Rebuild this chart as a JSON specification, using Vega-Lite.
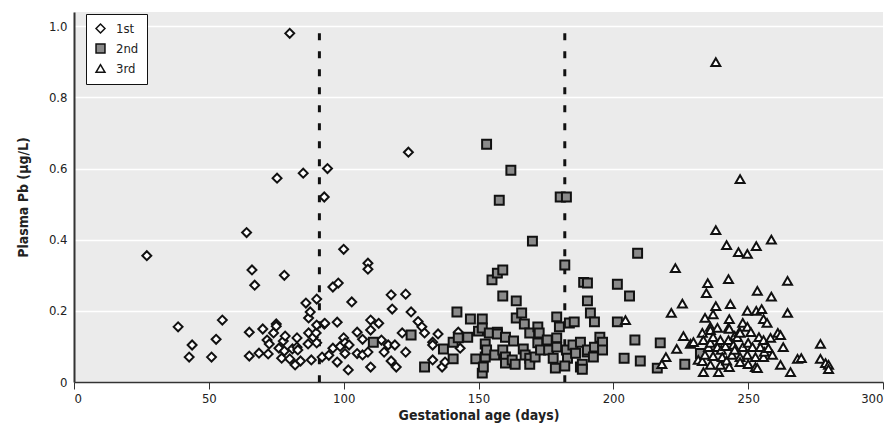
{
  "$schema": "https://vega.github.io/schema/vega-lite/v6.json",
  "width": 809,
  "height": 370,
  "autosize": {"type": "none"},
  "padding": {"left": 74, "top": 12, "right": 12, "bottom": 57},
  "background": "white",
  "config": {
    "view": {"fill": "#ebebeb", "stroke": null},
    "font": "DejaVu Sans Condensed, sans-serif",
    "axis": {"labelFont": "DejaVu Sans Condensed, sans-serif", "titleFont": "DejaVu Sans Condensed, sans-serif", "labelColor": "#222", "titleColor": "#222"},
    "legend": {"labelFont": "DejaVu Sans Condensed, sans-serif", "labelColor": "#222"}
  },
  "datasets": {
    "pts": [
      {"t":"1st","x":27,"y":0.355},{"t":"1st","x":38.6,"y":0.155},{"t":"1st","x":43.8,"y":0.104},{"t":"1st","x":42.7,"y":0.07},{"t":"1st","x":52.7,"y":0.12},{"t":"1st","x":51,"y":0.07},{"t":"1st","x":55,"y":0.174},{"t":"1st","x":64,"y":0.42},{"t":"1st","x":65,"y":0.14},{"t":"1st","x":65,"y":0.073},{"t":"1st","x":66,"y":0.315},{"t":"1st","x":67,"y":0.272},{"t":"1st","x":68.6,"y":0.081},{"t":"1st","x":70,"y":0.149},{"t":"1st","x":71.6,"y":0.118},{"t":"1st","x":72,"y":0.079},{"t":"1st","x":72.4,"y":0.107},{"t":"1st","x":74,"y":0.138},{"t":"1st","x":75,"y":0.163},{"t":"1st","x":75,"y":0.157},{"t":"1st","x":75.3,"y":0.573},{"t":"1st","x":76,"y":0.095},{"t":"1st","x":77,"y":0.067},{"t":"1st","x":77.6,"y":0.115},{"t":"1st","x":78,"y":0.3},{"t":"1st","x":78,"y":0.087},{"t":"1st","x":78.3,"y":0.129},{"t":"1st","x":80,"y":0.98},{"t":"1st","x":80,"y":0.065},{"t":"1st","x":81,"y":0.093},{"t":"1st","x":82,"y":0.048},{"t":"1st","x":82.7,"y":0.124},{"t":"1st","x":82.7,"y":0.098},{"t":"1st","x":83,"y":0.09},{"t":"1st","x":84,"y":0.059},{"t":"1st","x":85,"y":0.587},{"t":"1st","x":86,"y":0.222},{"t":"1st","x":86.8,"y":0.107},{"t":"1st","x":87,"y":0.18},{"t":"1st","x":87,"y":0.138},{"t":"1st","x":87.6,"y":0.197},{"t":"1st","x":88,"y":0.062},{"t":"1st","x":88.7,"y":0.126},{"t":"1st","x":89.8,"y":0.138},{"t":"1st","x":90,"y":0.233},{"t":"1st","x":90,"y":0.16},{"t":"1st","x":90,"y":0.11},{"t":"1st","x":92,"y":0.07},{"t":"1st","x":92.8,"y":0.163},{"t":"1st","x":92.8,"y":0.52},{"t":"1st","x":94,"y":0.6},{"t":"1st","x":93,"y":0.165},{"t":"1st","x":94.5,"y":0.075},{"t":"1st","x":96,"y":0.267},{"t":"1st","x":96,"y":0.095},{"t":"1st","x":97.6,"y":0.168},{"t":"1st","x":97.6,"y":0.056},{"t":"1st","x":98,"y":0.278},{"t":"1st","x":98.7,"y":0.1},{"t":"1st","x":100,"y":0.373},{"t":"1st","x":100,"y":0.124},{"t":"1st","x":100.5,"y":0.11},{"t":"1st","x":100.5,"y":0.08},{"t":"1st","x":101.7,"y":0.034},{"t":"1st","x":102,"y":0.104},{"t":"1st","x":103,"y":0.225},{"t":"1st","x":105,"y":0.14},{"t":"1st","x":105,"y":0.08},{"t":"1st","x":107,"y":0.12},{"t":"1st","x":107,"y":0.076},{"t":"1st","x":109,"y":0.334},{"t":"1st","x":109,"y":0.317},{"t":"1st","x":109,"y":0.084},{"t":"1st","x":110,"y":0.174},{"t":"1st","x":110,"y":0.146},{"t":"1st","x":110,"y":0.042},{"t":"1st","x":113,"y":0.165},{"t":"1st","x":114,"y":0.118},{"t":"1st","x":115,"y":0.084},{"t":"1st","x":116.5,"y":0.104},{"t":"1st","x":117.6,"y":0.245},{"t":"1st","x":117.6,"y":0.059},{"t":"1st","x":118,"y":0.205},{"t":"1st","x":119,"y":0.104},{"t":"1st","x":119.5,"y":0.042},{"t":"1st","x":121.7,"y":0.138},{"t":"1st","x":123,"y":0.247},{"t":"1st","x":123,"y":0.084},{"t":"1st","x":124,"y":0.646},{"t":"1st","x":125,"y":0.197},{"t":"1st","x":127.6,"y":0.17},{"t":"1st","x":129,"y":0.155},{"t":"1st","x":130,"y":0.138},{"t":"1st","x":133,"y":0.112},{"t":"1st","x":133,"y":0.104},{"t":"1st","x":133,"y":0.062},{"t":"1st","x":135,"y":0.135},{"t":"1st","x":136.5,"y":0.042},{"t":"1st","x":137.6,"y":0.056},{"t":"1st","x":142.5,"y":0.14},{"t":"1st","x":143.2,"y":0.095},
      {"t":"2nd","x":111,"y":0.112},{"t":"2nd","x":125,"y":0.132},{"t":"2nd","x":130,"y":0.042},{"t":"2nd","x":137,"y":0.093},{"t":"2nd","x":140.6,"y":0.112},{"t":"2nd","x":140.6,"y":0.065},{"t":"2nd","x":142,"y":0.197},{"t":"2nd","x":142.5,"y":0.124},{"t":"2nd","x":146,"y":0.126},{"t":"2nd","x":147,"y":0.177},{"t":"2nd","x":149,"y":0.065},{"t":"2nd","x":150,"y":0.143},{"t":"2nd","x":151.4,"y":0.177},{"t":"2nd","x":151.4,"y":0.152},{"t":"2nd","x":151.4,"y":0.025},{"t":"2nd","x":151.8,"y":0.042},{"t":"2nd","x":152.5,"y":0.107},{"t":"2nd","x":152.5,"y":0.07},{"t":"2nd","x":153,"y":0.668},{"t":"2nd","x":153,"y":0.09},{"t":"2nd","x":154,"y":0.138},{"t":"2nd","x":155,"y":0.287},{"t":"2nd","x":156,"y":0.076},{"t":"2nd","x":157,"y":0.306},{"t":"2nd","x":157,"y":0.14},{"t":"2nd","x":157,"y":0.135},{"t":"2nd","x":157.7,"y":0.511},{"t":"2nd","x":159,"y":0.315},{"t":"2nd","x":159,"y":0.242},{"t":"2nd","x":159,"y":0.09},{"t":"2nd","x":160,"y":0.126},{"t":"2nd","x":160,"y":0.07},{"t":"2nd","x":160,"y":0.053},{"t":"2nd","x":162,"y":0.595},{"t":"2nd","x":162.5,"y":0.062},{"t":"2nd","x":163,"y":0.115},{"t":"2nd","x":163.6,"y":0.05},{"t":"2nd","x":164,"y":0.228},{"t":"2nd","x":164,"y":0.18},{"t":"2nd","x":166,"y":0.194},{"t":"2nd","x":166.6,"y":0.093},{"t":"2nd","x":167,"y":0.163},{"t":"2nd","x":167.3,"y":0.076},{"t":"2nd","x":169,"y":0.138},{"t":"2nd","x":169,"y":0.067},{"t":"2nd","x":169,"y":0.05},{"t":"2nd","x":170,"y":0.396},{"t":"2nd","x":171,"y":0.07},{"t":"2nd","x":172,"y":0.155},{"t":"2nd","x":172,"y":0.11},{"t":"2nd","x":172.5,"y":0.138},{"t":"2nd","x":173,"y":0.09},{"t":"2nd","x":175.5,"y":0.118},{"t":"2nd","x":176,"y":0.09},{"t":"2nd","x":177.7,"y":0.067},{"t":"2nd","x":178.5,"y":0.039},{"t":"2nd","x":179,"y":0.183},{"t":"2nd","x":179,"y":0.124},{"t":"2nd","x":179,"y":0.098},{"t":"2nd","x":180,"y":0.155},{"t":"2nd","x":180.3,"y":0.52},{"t":"2nd","x":182,"y":0.329},{"t":"2nd","x":182.6,"y":0.52},{"t":"2nd","x":182.6,"y":0.09},{"t":"2nd","x":183,"y":0.067},{"t":"2nd","x":182,"y":0.045},{"t":"2nd","x":183.7,"y":0.166},{"t":"2nd","x":185,"y":0.104},{"t":"2nd","x":185.5,"y":0.169},{"t":"2nd","x":186,"y":0.081},{"t":"2nd","x":187.8,"y":0.112},{"t":"2nd","x":187.8,"y":0.042},{"t":"2nd","x":188.5,"y":0.05},{"t":"2nd","x":188.5,"y":0.036},{"t":"2nd","x":189,"y":0.28},{"t":"2nd","x":190.3,"y":0.084},{"t":"2nd","x":190.4,"y":0.278},{"t":"2nd","x":190.4,"y":0.228},{"t":"2nd","x":190.4,"y":0.09},{"t":"2nd","x":191.5,"y":0.194},{"t":"2nd","x":192.6,"y":0.07},{"t":"2nd","x":193,"y":0.169},{"t":"2nd","x":193,"y":0.098},{"t":"2nd","x":195,"y":0.126},{"t":"2nd","x":196,"y":0.112},{"t":"2nd","x":196,"y":0.09},{"t":"2nd","x":201.5,"y":0.275},{"t":"2nd","x":201.5,"y":0.169},{"t":"2nd","x":204,"y":0.067},{"t":"2nd","x":206,"y":0.242},{"t":"2nd","x":208,"y":0.118},{"t":"2nd","x":209,"y":0.362},{"t":"2nd","x":210,"y":0.059},{"t":"2nd","x":216.3,"y":0.039},{"t":"2nd","x":217.4,"y":0.11},{"t":"2nd","x":226.5,"y":0.05},{"t":"2nd","x":232.3,"y":0.08},
      {"t":"3rd","x":204.5,"y":0.174},{"t":"3rd","x":218,"y":0.05},{"t":"3rd","x":219.5,"y":0.07},{"t":"3rd","x":221.5,"y":0.194},{"t":"3rd","x":223,"y":0.32},{"t":"3rd","x":223.5,"y":0.093},{"t":"3rd","x":225.6,"y":0.22},{"t":"3rd","x":226,"y":0.129},{"t":"3rd","x":228.6,"y":0.107},{"t":"3rd","x":229.7,"y":0.112},{"t":"3rd","x":231.5,"y":0.062},{"t":"3rd","x":233,"y":0.138},{"t":"3rd","x":233.4,"y":0.118},{"t":"3rd","x":233.4,"y":0.028},{"t":"3rd","x":233,"y":0.059},{"t":"3rd","x":234,"y":0.18},{"t":"3rd","x":234,"y":0.076},{"t":"3rd","x":234.5,"y":0.25},{"t":"3rd","x":235,"y":0.278},{"t":"3rd","x":235.3,"y":0.098},{"t":"3rd","x":236,"y":0.155},{"t":"3rd","x":236,"y":0.146},{"t":"3rd","x":236,"y":0.048},{"t":"3rd","x":236,"y":0.11},{"t":"3rd","x":237,"y":0.19},{"t":"3rd","x":237,"y":0.126},{"t":"3rd","x":237,"y":0.073},{"t":"3rd","x":238,"y":0.427},{"t":"3rd","x":238,"y":0.899},{"t":"3rd","x":238,"y":0.213},{"t":"3rd","x":238.6,"y":0.152},{"t":"3rd","x":238.6,"y":0.098},{"t":"3rd","x":239,"y":0.028},{"t":"3rd","x":239.7,"y":0.118},{"t":"3rd","x":239.7,"y":0.048},{"t":"3rd","x":240,"y":0.09},{"t":"3rd","x":240.4,"y":0.07},{"t":"3rd","x":241.6,"y":0.101},{"t":"3rd","x":242,"y":0.385},{"t":"3rd","x":242,"y":0.06},{"t":"3rd","x":242.7,"y":0.289},{"t":"3rd","x":242.7,"y":0.152},{"t":"3rd","x":242.7,"y":0.118},{"t":"3rd","x":243,"y":0.177},{"t":"3rd","x":243,"y":0.149},{"t":"3rd","x":243,"y":0.042},{"t":"3rd","x":243.4,"y":0.219},{"t":"3rd","x":244,"y":0.076},{"t":"3rd","x":244.5,"y":0.104},{"t":"3rd","x":245,"y":0.09},{"t":"3rd","x":245,"y":0.13},{"t":"3rd","x":246,"y":0.126},{"t":"3rd","x":246.4,"y":0.365},{"t":"3rd","x":246.7,"y":0.14},{"t":"3rd","x":247,"y":0.57},{"t":"3rd","x":247,"y":0.07},{"t":"3rd","x":247,"y":0.056},{"t":"3rd","x":247,"y":0.138},{"t":"3rd","x":248,"y":0.166},{"t":"3rd","x":248,"y":0.098},{"t":"3rd","x":249.7,"y":0.2},{"t":"3rd","x":249.7,"y":0.155},{"t":"3rd","x":249.7,"y":0.36},{"t":"3rd","x":249.7,"y":0.076},{"t":"3rd","x":250,"y":0.11},{"t":"3rd","x":250,"y":0.05},{"t":"3rd","x":251,"y":0.14},{"t":"3rd","x":251.6,"y":0.098},{"t":"3rd","x":252.7,"y":0.07},{"t":"3rd","x":252.7,"y":0.042},{"t":"3rd","x":253,"y":0.382},{"t":"3rd","x":253,"y":0.2},{"t":"3rd","x":253.4,"y":0.256},{"t":"3rd","x":253.4,"y":0.039},{"t":"3rd","x":254,"y":0.126},{"t":"3rd","x":254.5,"y":0.098},{"t":"3rd","x":255,"y":0.205},{"t":"3rd","x":255.7,"y":0.177},{"t":"3rd","x":255.7,"y":0.118},{"t":"3rd","x":255.7,"y":0.07},{"t":"3rd","x":256,"y":0.085},{"t":"3rd","x":257,"y":0.166},{"t":"3rd","x":257.5,"y":0.095},{"t":"3rd","x":258.3,"y":0.124},{"t":"3rd","x":258.6,"y":0.4},{"t":"3rd","x":258.6,"y":0.24},{"t":"3rd","x":259,"y":0.076},{"t":"3rd","x":261,"y":0.138},{"t":"3rd","x":262,"y":0.132},{"t":"3rd","x":262,"y":0.048},{"t":"3rd","x":263,"y":0.098},{"t":"3rd","x":264.6,"y":0.284},{"t":"3rd","x":264.6,"y":0.194},{"t":"3rd","x":265.7,"y":0.028},{"t":"3rd","x":268.3,"y":0.065},{"t":"3rd","x":269.7,"y":0.067},{"t":"3rd","x":276.8,"y":0.107},{"t":"3rd","x":276.8,"y":0.065},{"t":"3rd","x":278.7,"y":0.053},{"t":"3rd","x":279.8,"y":0.048},{"t":"3rd","x":279.8,"y":0.036}
    ],
    "cuts": [{"day": 91}, {"day": 182}]
  },
  "layer": [
    {
      "data": {"name": "cuts"},
      "mark": {"type": "rule", "color": "#111", "strokeWidth": 3, "strokeDash": [7, 11]},
      "encoding": {
        "x": {"field": "day", "type": "quantitative", "scale": {"domain": [0, 300]}},
        "y": {"datum": 0.98, "type": "quantitative"},
        "y2": {"datum": 0}
      }
    },
    {
      "data": {"name": "pts"},
      "mark": {"type": "point", "filled": false, "strokeWidth": 2, "opacity": 1, "size": 80},
      "encoding": {
        "x": {
          "field": "x", "type": "quantitative",
          "scale": {"domain": [0, 300], "nice": false},
          "axis": {"title": "Gestational age (days)", "values": [0, 50, 100, 150, 200, 250, 300], "grid": false, "domainColor": "#333", "domainWidth": 1.5, "tickColor": "#333", "tickSize": 7, "labelFontSize": 13, "labelPadding": 3, "titleFontSize": 14, "titleFontWeight": "bold", "titlePadding": 3}
        },
        "y": {
          "field": "y", "type": "quantitative",
          "scale": {"domain": [0, 1.04], "nice": false},
          "axis": {"title": "Plasma Pb (μg/L)", "values": [0, 0.2, 0.4, 0.6, 0.8, 1.0], "labelExpr": "datum.value == 0 ? '0' : format(datum.value, '.1f')", "grid": true, "gridColor": "white", "gridWidth": 1.5, "ticks": false, "domainColor": "#333", "domainWidth": 2, "labelFontSize": 13, "labelPadding": 7, "titleFontSize": 14, "titleFontWeight": "bold", "titlePadding": 18}
        },
        "shape": {
          "field": "t", "type": "nominal",
          "scale": {"domain": ["1st", "2nd", "3rd"], "range": ["diamond", "square", "triangle-up"]},
          "legend": {"title": null, "orient": "none", "legendX": 12, "legendY": 2, "fillColor": "white", "strokeColor": "#111", "padding": 8, "labelFontSize": 13, "symbolSize": 80, "symbolStrokeWidth": 1.5, "rowPadding": 5, "labelOffset": 9}
        },
        "fill": {
          "field": "t", "type": "nominal",
          "scale": {"domain": ["1st", "2nd", "3rd"], "range": ["white", "#8a8a8a", "white"]},
          "legend": {"title": null, "orient": "none", "legendX": 12, "legendY": 2, "fillColor": "white", "strokeColor": "#111", "padding": 8, "labelFontSize": 13, "symbolSize": 80, "symbolStrokeWidth": 1.5, "rowPadding": 5, "labelOffset": 9}
        },
        "stroke": {
          "field": "t", "type": "nominal",
          "scale": {"domain": ["1st", "2nd", "3rd"], "range": ["#111", "#111", "#111"]},
          "legend": {"title": null, "orient": "none", "legendX": 12, "legendY": 2, "fillColor": "white", "strokeColor": "#111", "padding": 8, "labelFontSize": 13, "symbolSize": 80, "symbolStrokeWidth": 1.5, "rowPadding": 5, "labelOffset": 9}
        }
      }
    }
  ]
}
